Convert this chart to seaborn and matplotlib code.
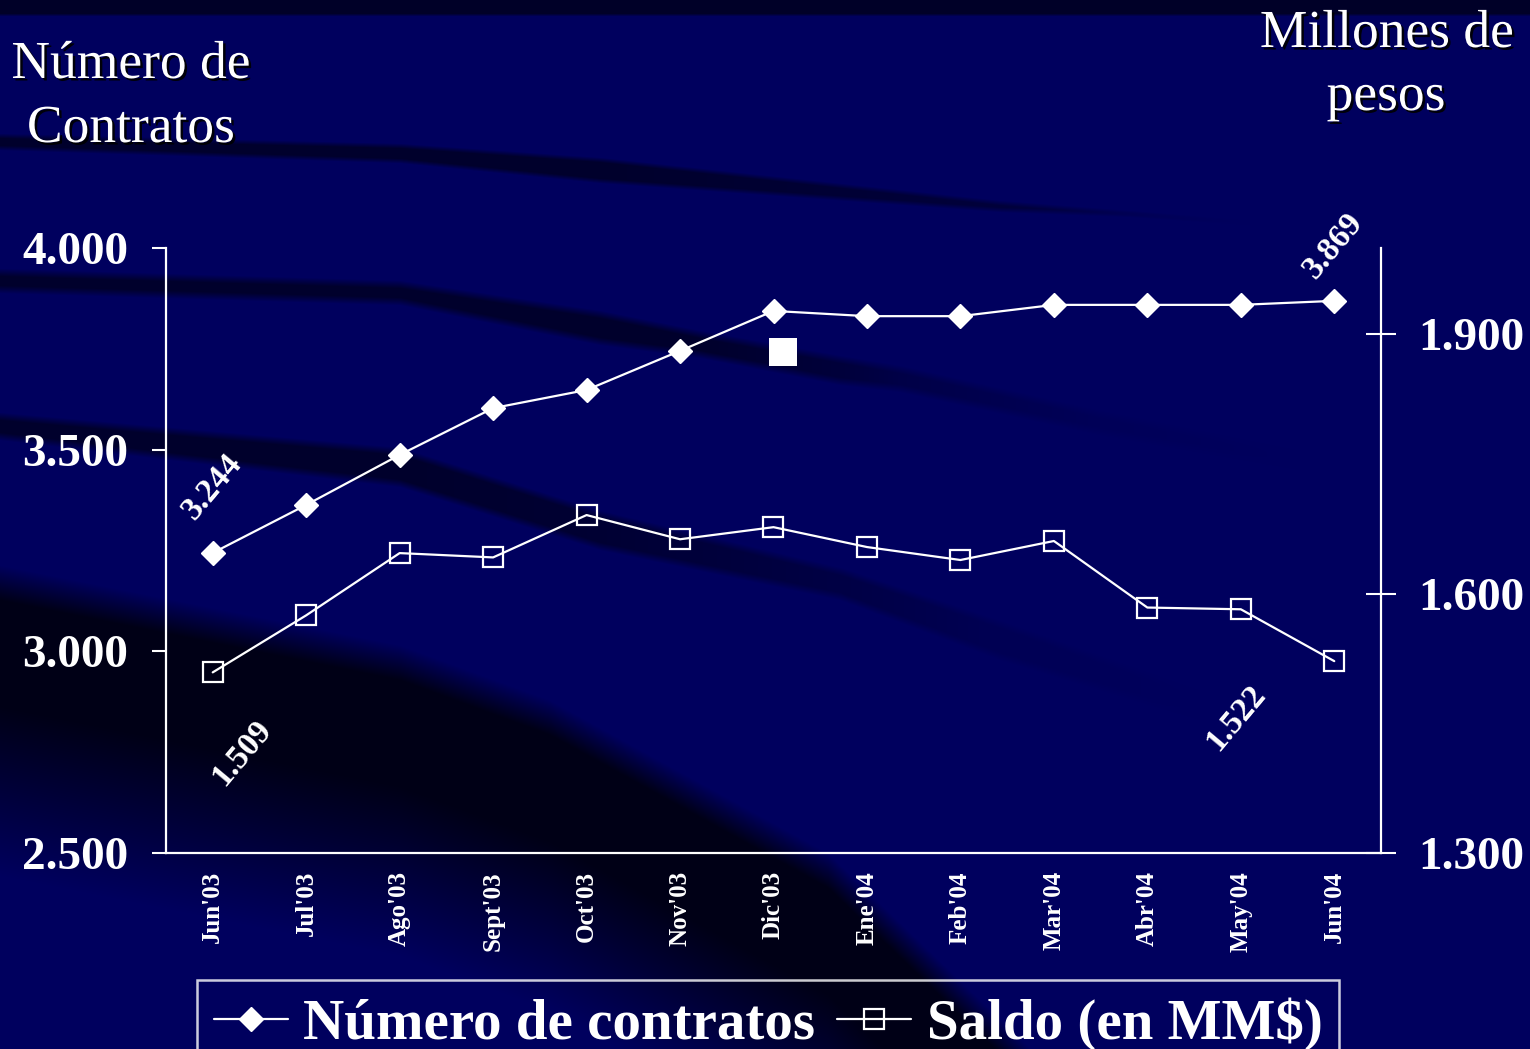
import numpy as np
import pandas as pd
import matplotlib
matplotlib.use("Agg")
import matplotlib.pyplot as plt
import matplotlib.patheffects as pe
import seaborn as sns

# ---------------- data ----------------
meses = ["Jun'03", "Jul'03", "Ago'03", "Sept'03", "Oct'03", "Nov'03", "Dic'03",
         "Ene'04", "Feb'04", "Mar'04", "Abr'04", "May'04", "Jun'04"]
contratos = [3244, 3363, 3487, 3603, 3648, 3745, 3844, 3831, 3831, 3859, 3859, 3859, 3869]
saldo = [1509, 1575, 1647, 1642, 1691, 1663, 1677, 1654, 1639, 1661, 1584, 1582, 1522]
left_ticks = [2500, 3000, 3500, 4000]
right_ticks = [1300, 1600, 1900]
stray_x = [6.1]
stray_y = [3743]
serie1 = "Número de contratos"
serie2 = "Saldo (en MM$)"


def fmt(v):
    return f"{int(v):,}".replace(",", ".")


df = pd.DataFrame({"pos": np.arange(len(meses)), "mes": meses,
                   "contratos": contratos, "saldo": saldo})

# ---------------- style ----------------
sns.set_theme(style="white")
plt.rcParams["font.family"] = ["Liberation Serif", "DejaVu Serif"]
plt.rcParams["text.color"] = "white"

W, H = 1530, 1049
fig = plt.figure(figsize=(W / 100, H / 100), dpi=100)
navy = np.array([0, 0, 94]) / 255
fig.patch.set_facecolor(navy)

# ---------------- decorative background ----------------
yy, xx = np.mgrid[0:H, 0:W].astype(float)
img = np.ones((H, W, 3)) * navy
dark = np.array([0, 0, 44]) / 255
darkest = np.array([0, 0, 22]) / 255


def apply(img, alpha, col):
    a = alpha[..., None]
    return img * (1 - a) + col * a


def band(xp, top, bot, strength, soft=5.0):
    cx = xx[0]
    t = np.interp(cx, xp, top)[None, :]
    b = np.interp(cx, xp, bot)[None, :]
    s = np.interp(cx, xp, strength)[None, :]
    return np.clip((yy - t) / soft, 0, 1) * np.clip((b - yy) / soft, 0, 1) * s


img = apply(img, np.clip((16 - yy) / 3, 0, 1), np.array([0, 0, 40]) / 255)
img = apply(img, band([0, 400, 600, 1000, 1130, 1250], [133, 143, 157, 200, 210, 220],
                      [150, 163, 183, 212, 217, 225], [1, 1, 1, 0.7, 0.4, 0]), dark)
img = apply(img, band([0, 400, 600, 700, 840, 900, 1100, 1300],
                      [268, 280, 310, 330, 355, 365, 410, 450],
                      [293, 305, 345, 358, 385, 392, 435, 470],
                      [1, 1, 1, 1, 0.7, 0.45, 0.12, 0], soft=8), dark)
img = apply(img, band([0, 400, 600, 840, 1000, 1200], [412, 447, 510, 567, 620, 690],
                      [440, 487, 550, 600, 660, 720], [1, 1, 0.85, 0.5, 0.2, 0], soft=8), dark)
E = np.interp(xx[0], [0, 400, 550, 828, 1031, 1100], [565, 645, 700, 853, 1049, 1130])[None, :]
d = yy - E
alpha_dark = np.clip(d / 35, 0, 1) * np.clip(1 - (d - 140) / 170, 0.0, 1)
img = apply(img, alpha_dark, darkest)

bg = fig.add_axes([0, 0, 1, 1], zorder=0)
bg.imshow(img, extent=[0, W, H, 0], aspect="auto", interpolation="bilinear")
bg.set_xlim(0, W)
bg.set_ylim(H, 0)
bg.axis("off")

# ---------------- main axes ----------------
L, R, T, B = 166, 1381, 248, 853
ax = fig.add_axes([L / W, 1 - B / H, (R - L) / W, (B - T) / H], zorder=1)
ax.set_facecolor("none")
ax2 = ax.twinx()
ax2.set_facecolor("none")

sns.lineplot(data=df, x="pos", y="contratos", ax=ax, color="white", linewidth=1.6,
             marker="D", markersize=12, markeredgecolor="white", markerfacecolor="white",
             markeredgewidth=1, label=serie1)
sns.lineplot(data=df, x="pos", y="saldo", ax=ax2, color="white", linewidth=1.6,
             marker="s", markersize=15, markeredgecolor="white", markerfacecolor="none",
             markeredgewidth=1.6, label=serie2)
sns.scatterplot(x=stray_x, y=stray_y, ax=ax, marker="s", s=19.5 ** 2, color="white",
                edgecolor="white", linewidth=0, legend=False)

for a in (ax, ax2):
    if a.get_legend() is not None:
        a.get_legend().remove()
    a.set_xlabel("")
    a.set_ylabel("")

ax.set_xlim(-0.5, len(meses) - 0.5)
ax.set_ylim(left_ticks[0], left_ticks[-1])
ax2.set_ylim(1300, 2000)

ax.set_xticks(df["pos"], labels=meses, rotation=90, fontweight="bold", fontsize=18,
              color="white")
ax.set_xticks(np.arange(-0.5, len(meses), 1), minor=True)
ax.tick_params(axis="x", which="major", length=0, pad=13)
ax.tick_params(axis="x", which="minor", length=7, width=1.5, color="white", direction="out")

ax.set_yticks(left_ticks, labels=[fmt(v) for v in left_ticks], fontweight="bold",
              fontsize=34, color="white")
ax.tick_params(axis="y", length=10, width=1.5, color="white", direction="out", pad=17)
ax2.set_yticks(right_ticks, labels=[fmt(v) for v in right_ticks], fontweight="bold",
               fontsize=34, color="white")
ax2.tick_params(axis="y", length=22, width=1.5, color="white", direction="inout", pad=16)

for a in (ax, ax2):
    for s in a.spines.values():
        s.set_color("white")
        s.set_linewidth(1.6)
    a.spines["top"].set_visible(False)
ax.spines["right"].set_visible(False)
ax2.spines["left"].set_visible(False)
ax2.spines["bottom"].set_visible(False)
ax.grid(False)
ax2.grid(False)

# ---------------- value labels ----------------
lab_kw = dict(textcoords="offset pixels", ha="center", va="center", rotation=50,
              fontsize=24, fontweight="bold", color="white")
ax.annotate(fmt(contratos[0]), xy=(0, contratos[0]), xytext=(0, 66), **lab_kw)
ax.annotate(fmt(contratos[-1]), xy=(len(meses) - 1, contratos[-1]), xytext=(-1, 55), **lab_kw)
ax2.annotate(fmt(saldo[0]), xy=(0, saldo[0]), xytext=(29, -80), **lab_kw)
ax2.annotate(fmt(saldo[-1]), xy=(len(meses) - 1, saldo[-1]), xytext=(-98, -57), **lab_kw)

# ---------------- axis titles ----------------
shadow = [pe.withSimplePatchShadow(offset=(1.8, -1.8), shadow_rgbFace="black", alpha=0.9)]
for txt, x, y in [("Número de", 131, 78), ("Contratos", 131, 142),
                  ("Millones de", 1387, 47), ("pesos", 1386, 110)]:
    fig.text(x / W, 1 - y / H, txt, ha="center", va="baseline", fontsize=38.5,
             color="white", path_effects=shadow)

# ---------------- legend ----------------
h1 = ax.get_lines()[0]
h2 = ax2.get_lines()[0]
leg = fig.legend([h1, h2], [serie1, serie2], loc="upper left", ncol=2,
                 bbox_to_anchor=(197 / W, 1 - 980 / H), borderaxespad=0,
                 frameon=True, fancybox=False, edgecolor="white", facecolor="none",
                 prop=dict(family="Liberation Serif", weight="bold", size=41),
                 handlelength=1.3, handletextpad=0.27, columnspacing=0.38,
                 borderpad=0.3)
leg.get_frame().set_linewidth(1.8)
for t in leg.get_texts():
    t.set_color("white")

fig.savefig("out.png", dpi=100, facecolor=fig.get_facecolor())
